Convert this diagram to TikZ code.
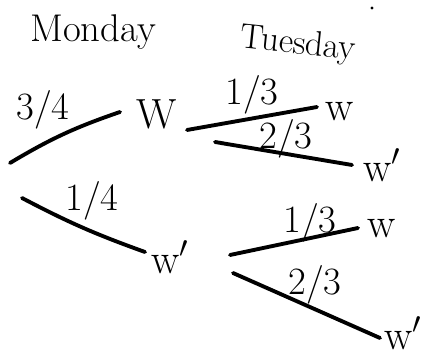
\documentclass[tikz,border=0pt]{standalone}
\usepackage{tikz}
\usetikzlibrary{arrows.meta,calc}

\begin{document}
\begin{tikzpicture}[thick,
  branch/.style={line width=2.2pt, line cap=round},
  every node/.style={font=\fontsize{24}{28}\selectfont, inner sep=2pt},
  prob/.style={font=\fontsize{22}{26}\selectfont},
  day/.style={font=\fontsize{22}{26}\selectfont}]
            \useasboundingbox (0,0) rectangle (8.76,7.2);
            % headings
            \node[day] (mon) at (1.86,6.56) {Monday};
            \node[day, font=\fontsize{20}{24}\selectfont, rotate=-6] (tue) at (5.96,6.3) {Tuesday};
            \fill (7.44,7.04) circle (0.9pt);
            % Monday
            \coordinate (root1) at (0.2,3.94);
            \coordinate (root2) at (0.44,3.24);
            \node (mW) at (3.14,4.92) {W};
            \node (mWp) at (3.4,2.06) {w$'$};
            \draw[branch] (root1) to[bend left=6] ($(mW)+(-0.74,0.04)$);
            \draw[branch] (root2) to[bend right=4] ($(mWp)+(-0.5,0.1)$);
            \node[prob] at (0.86,5.0) {3/4};
            \node[prob] at (1.84,3.18) {1/4};
            % Tuesday after W
            \node (ww) at (6.8,4.96) {w};
            \node (wwp) at (7.64,3.9) {w$'$};
            \draw[branch] ($(mW)+(0.6,-0.32)$) -- ($(ww)+(-0.46,0.1)$);
            \draw[branch] ($(mW)+(1.16,-0.56)$) -- ($(wwp)+(-0.6,0.0)$);
            \node[prob] at (5.04,5.3) {1/3};
            \node[prob] at (5.72,4.42) {2/3};
            % Tuesday after w'
            \node (wpw) at (7.64,2.62) {w};
            \node (wpwp) at (8.06,0.54) {w$'$};
            \draw[branch] ($(mWp)+(1.2,0.04)$) -- ($(wpw)+(-0.48,0.02)$);
            \draw[branch] ($(mWp)+(1.26,-0.32)$) -- ($(wpwp)+(-0.46,-0.1)$);
            \node[prob] at (6.2,2.74) {1/3};
            \node[prob] at (6.3,1.5) {2/3};
        \end{tikzpicture}
\end{document}
